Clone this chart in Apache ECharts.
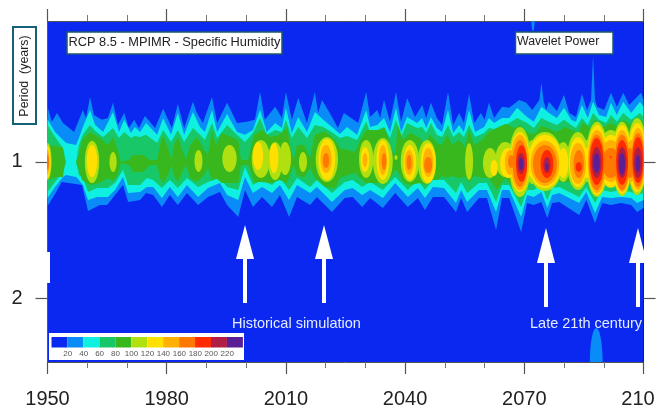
<!DOCTYPE html>
<html><head><meta charset="utf-8">
<style>html,body{margin:0;padding:0;background:#fff}#c{width:664px;height:408px}</style>
<script src="https://cdn.jsdelivr.net/npm/echarts@6/dist/echarts.min.js"></script>
</head><body><div id="c"></div>
<script>
const levelLabels=[20,40,60,80,100,120,140,160,180,200,220];
const levelColors=['#0a28f0','#0a8cf8','#10f0e0','#18c868','#38b81c','#b0e010','#ffe000','#ffb000','#ff7800','#ff2a00','#b01e46','#5a1e96'];
const xTickYears=[1950,1980,2010,2040,2070,2100];
const yTickPeriods=[1,2];

const edge20Top=[[1950,.755],[1951.1,.815],[1952.4,.779],[1953.9,.82],[1956.7,.858],[1958.9,.767],[1959.7,.799],[1960.7,.718],[1961.7,.787],[1963.7,.807],[1965.2,.799],[1966.5,.74],[1967.7,.828],[1969.3,.779],[1970.5,.841],[1971.8,.807],[1973,.841],[1974.5,.791],[1977.1,.841],[1979.1,.763],[1981.3,.841],[1982.8,.744],[1984.4,.841],[1986.6,.736],[1987.6,.779],[1989.1,.82],[1991.4,.718],[1992.7,.82],[1995.2,.74],[1997.7,.82],[2000.2,.815],[2002.2,.807],[2003.5,.7],[2004.7,.807],[2007.3,.755],[2009,.799],[2010,.7],[2011.5,.807],[2013.1,.722],[2015.3,.82],[2017.3,.7],[2018.1,.779],[2019.1,.729],[2021.6,.795],[2023.1,.841],[2024.6,.779],[2028.2,.82],[2030.2,.7],[2031.2,.795],[2033,.767],[2033.7,.799],[2034.7,.729],[2036.2,.815],[2037.7,.7],[2039,.815],[2040.5,.722],[2042.5,.795],[2044.3,.748],[2045.3,.799],[2046.5,.74],[2048,.799],[2049.3,.828],[2050.8,.7],[2052.1,.828],[2053.6,.779],[2054.8,.82],[2056.1,.707],[2057.4,.82],[2059.1,.779],[2060,.807],[2061.1,.74],[2062.4,.799],[2064.4,.755],[2066.2,.759],[2068.7,.729],[2070.5,.74],[2072,.767],[2073.8,.729],[2074.3,.668],[2074.8,.729],[2075.5,.767],[2076.2,.736],[2078.2,.771],[2080,.711],[2081.3,.779],[2083,.795],[2084.5,.707],[2085.8,.767],[2086.8,.729],[2087.3,.58],[2087.8,.729],[2088.3,.755],[2090.1,.767],[2091.8,.703],[2093.3,.755],[2094.9,.703],[2096.4,.748],[2099.4,.703],[2100,.729]];
const edge20Bottom=[[1950,1.252],[1951.9,1.177],[1953.6,1.107],[1958.7,1.124],[1960.2,1.284],[1963.2,1.245],[1965,1.245],[1967,1.183],[1969,1.124],[1970.3,1.226],[1973.3,1.214],[1974.8,1.171],[1976.6,1.183],[1978.8,1.258],[1980.8,1.183],[1982.8,1.245],[1985.1,1.171],[1987.9,1.245],[1990.4,1.195],[1993.4,1.165],[1995.2,1.245],[1998,1.323],[1999.7,1.153],[2001.7,1.258],[2004,1.195],[2006.5,1.258],[2008.5,1.183],[2010.8,1.323],[2012.8,1.195],[2016.1,1.245],[2017.8,1.195],[2021.6,1.29],[2024.8,1.202],[2026.8,1.195],[2029.2,1.258],[2031.2,1.202],[2034.4,1.264],[2037.5,1.171],[2040.7,1.258],[2043.2,1.202],[2045,1.277],[2047,1.195],[2049.8,1.195],[2052.8,1.29],[2054.1,1.202],[2055.6,1.29],[2058.6,1.202],[2060.6,1.202],[2062.9,1.414],[2064.4,1.202],[2066.2,1.202],[2069.2,1.429],[2070.7,1.233],[2072.4,1.245],[2074.3,1.226],[2075.8,1.33],[2077,1.233],[2078.8,1.226],[2083.8,1.31],[2085.6,1.214],[2087.8,1.365],[2089.6,1.233],[2091.8,1.245],[2094.3,1.233],[2096.9,1.245],[2098.4,1.29],[2100,1.264]];

const edge40Top=[[1950,.803],[1951.9,.858],[1953.9,.894],[1954.7,.908],[1957.2,.917],[1957.9,.885],[1958.9,.837],[1960.7,.767],[1962,.828],[1964,.858],[1966.5,.775],[1968,.858],[1969.3,.807],[1971,.863],[1972,.837],[1973.3,.858],[1974.8,.82],[1977.6,.871],[1979.1,.799],[1981.1,.871],[1982.8,.779],[1984.4,.871],[1986.6,.775],[1988.4,.837],[1989.6,.858],[1991.4,.767],[1992.7,.858],[1995.2,.783],[1997.7,.858],[1999.7,.871],[2001.7,.85],[2003.5,.767],[2005.2,.858],[2007.3,.82],[2009,.841],[2010,.759],[2011.5,.863],[2013.1,.795],[2015.3,.858],[2017.3,.775],[2019.4,.807],[2021.9,.841],[2023.6,.867],[2025.4,.837],[2027.9,.871],[2030.2,.767],[2031.2,.837],[2033,.828],[2034.7,.799],[2036.2,.858],[2037.7,.759],[2039,.858],[2040.5,.795],[2043,.82],[2044.3,.799],[2045.3,.841],[2046.5,.795],[2048,.841],[2049.3,.858],[2050.8,.767],[2052.1,.863],[2053.6,.828],[2054.8,.858],[2056.1,.767],[2057.6,.858],[2059.9,.837],[2061.1,.799],[2062.4,.82],[2064.4,.799],[2066.2,.799],[2068.2,.759],[2070.7,.795],[2072.4,.815],[2074.3,.755],[2076.2,.779],[2078.2,.799],[2080,.759],[2081.8,.807],[2083,.815],[2084.5,.748],[2086,.799],[2087.3,.736],[2088.8,.787],[2090.6,.795],[2091.8,.74],[2093.3,.787],[2094.9,.736],[2096.9,.779],[2099.1,.736],[2100,.755]];
const edge40Bottom=[[1950,1.202],[1951.9,1.136],[1953.9,1.079],[1954.7,1.068],[1957.2,1.079],[1957.9,1.096],[1958.9,1.124],[1960.2,1.214],[1962.5,1.195],[1965.2,1.195],[1967,1.153],[1969,1.079],[1970.3,1.171],[1973.3,1.165],[1975,1.136],[1976.6,1.136],[1978.8,1.202],[1980.8,1.136],[1982.8,1.195],[1985.1,1.124],[1987.9,1.195],[1990.4,1.142],[1993.4,1.113],[1995.2,1.183],[1998,1.214],[1999.7,1.079],[2001.7,1.171],[2004,1.136],[2006.5,1.171],[2008.5,1.124],[2010.8,1.214],[2012.8,1.124],[2016.1,1.171],[2017.8,1.136],[2021.6,1.226],[2024.8,1.153],[2026.8,1.142],[2029.2,1.183],[2031.2,1.153],[2034.4,1.202],[2037.5,1.113],[2040.7,1.195],[2043.2,1.142],[2045,1.202],[2047,1.136],[2049.8,1.142],[2052.8,1.233],[2054.1,1.153],[2055.6,1.226],[2058.6,1.153],[2060.6,1.153],[2062.9,1.29],[2064.4,1.153],[2066.2,1.153],[2069.2,1.323],[2070.7,1.183],[2072.4,1.195],[2074.3,1.165],[2075.8,1.264],[2077,1.183],[2078.8,1.171],[2083.8,1.233],[2085.6,1.165],[2087.8,1.297],[2089.6,1.195],[2091.8,1.202],[2094.3,1.195],[2096.9,1.202],[2098.4,1.233],[2100,1.214]];

const edge60Top=[[1950,.828],[1951.9,.88],[1953.9,.931],[1954.7,1],[1957.2,1],[1957.9,.917],[1958.9,.871],[1960.7,.828],[1962,.854],[1964,.88],[1966.5,.841],[1968,.885],[1969.3,.858],[1971,.885],[1972,.876],[1973.3,.88],[1974.8,.871],[1977.6,.908],[1979.1,.85],[1981.1,.903],[1982.8,.85],[1984.4,.903],[1986.6,.841],[1988.4,.871],[1989.6,.894],[1991.4,.82],[1992.7,.885],[1995.2,.828],[1997.7,.871],[1999.7,.903],[2001.7,.863],[2003.5,.799],[2005.2,.871],[2007.3,.85],[2009,.858],[2010,.807],[2011.5,.885],[2013.1,.837],[2015.3,.885],[2017.3,.828],[2019.4,.837],[2021.9,.863],[2023.6,.885],[2025.4,.876],[2027.9,.894],[2030.2,.815],[2031.2,.858],[2033,.85],[2034.7,.837],[2036.2,.885],[2037.7,.807],[2039,.88],[2040.5,.82],[2043,.841],[2044.3,.837],[2045.3,.863],[2046.5,.82],[2048,.871],[2049.3,.88],[2050.8,.828],[2052.1,.88],[2053.6,.858],[2054.8,.88],[2056.1,.828],[2057.6,.88],[2059.9,.863],[2061.1,.841],[2062.4,.845],[2064.4,.832],[2066.2,.82],[2068.2,.799],[2070.7,.82],[2072.4,.841],[2074.3,.799],[2076.2,.815],[2078.2,.828],[2080,.807],[2081.8,.828],[2083,.841],[2084.5,.799],[2086,.828],[2087.3,.779],[2088.8,.807],[2090.6,.82],[2091.8,.787],[2093.3,.815],[2094.9,.779],[2096.9,.807],[2099.1,.779],[2100,.795]];
const edge60Bottom=[[1950,1.165],[1951.9,1.107],[1953.9,1.052],[1954.7,1],[1957.2,1],[1957.9,1.068],[1958.9,1.085],[1960.2,1.165],[1962.5,1.142],[1965.2,1.142],[1967,1.113],[1969,1.041],[1970.3,1.124],[1973.3,1.124],[1975,1.085],[1976.6,1.096],[1978.8,1.142],[1980.8,1.096],[1982.8,1.142],[1985.1,1.085],[1987.9,1.136],[1990.4,1.107],[1993.4,1.085],[1995.2,1.136],[1998,1.153],[1999.7,1.026],[2001.7,1.124],[2004,1.096],[2006.5,1.124],[2008.5,1.085],[2010.8,1.153],[2012.8,1.085],[2016.1,1.136],[2017.8,1.096],[2021.6,1.171],[2024.8,1.107],[2026.8,1.096],[2029.2,1.136],[2031.2,1.107],[2034.4,1.153],[2037.5,1.079],[2040.7,1.153],[2043.2,1.096],[2045,1.153],[2047,1.096],[2049.8,1.096],[2052.8,1.171],[2054.1,1.107],[2055.6,1.171],[2058.6,1.113],[2060.6,1.113],[2062.9,1.226],[2064.4,1.124],[2066.2,1.124],[2069.2,1.258],[2070.7,1.153],[2072.4,1.153],[2074.3,1.124],[2075.8,1.214],[2077,1.142],[2078.8,1.136],[2083.8,1.195],[2085.6,1.136],[2087.8,1.233],[2089.6,1.153],[2091.8,1.165],[2094.3,1.153],[2096.9,1.165],[2098.4,1.183],[2100,1.171]];

const band80=[[1950,.917,1.096],[1952.4,.922,1.079],[1953.9,.931,1.079],[1954.4,1,1],[1957.2,1,1],[1957.9,.965,1.041],[1958.7,.894,1.096],[1960.7,.858,1.124],[1963.2,.885,1.113],[1965.2,.917,1.085],[1966.5,.88,1.102],[1967.7,.941,1.068],[1968.5,1,1.005],[1970.5,.99,1.015],[1971.5,.965,1.052],[1974,.965,1.052],[1975.8,.99,1.015],[1977.6,.99,1.015],[1978.3,.917,1.085],[1979.1,.871,1.113],[1980.3,.931,1.068],[1981.3,.99,1.015],[1981.8,.917,1.068],[1982.8,.88,1.107],[1983.9,.941,1.052],[1984.9,.99,1.015],[1985.9,.917,1.085],[1987.6,.88,1.107],[1989.4,.941,1.068],[1990.4,.965,1.031],[1991.4,.85,1.096],[1992.4,.917,1.085],[1993.9,.863,1.113],[1998,.894,1.113],[1998.7,.99,1.015],[2000.5,.99,1.015],[2001,.941,1.041],[2002,.871,1.107],[2004,.85,1.107],[2006,.88,1.113],[2008.5,.871,1.096],[2010.3,.841,1.113],[2011.3,.941,1.052],[2012,.99,1.015],[2012.8,.917,1.068],[2014.6,.917,1.085],[2016.1,.98,1.031],[2017.3,.871,1.085],[2019.8,.854,1.136],[2022.4,.894,1.142],[2023.6,.931,1.085],[2025.4,.941,1.068],[2027.4,.95,1.058],[2028.7,.894,1.085],[2030.2,.85,1.113],[2033.7,.85,1.113],[2034.9,.841,1.124],[2036.7,.941,1.068],[2037.5,.965,1.041],[2038.2,.828,1.052],[2039.5,.894,1.107],[2041.2,.863,1.124],[2043.8,.885,1.113],[2045,.917,1.124],[2046.3,.871,1.096],[2048,.908,1.096],[2049.3,.917,1.074],[2050.6,.871,1.085],[2051.8,.917,1.074],[2053.6,.894,1.085],[2055.1,.926,1.079],[2056.1,.85,1.107],[2057.4,.917,1.074],[2059.4,.894,1.085],[2061.1,.858,1.085],[2063.1,.841,1.153],[2065.2,.824,1.085],[2067.7,.841,1.153],[2068.9,.828,1.183],[2070.7,.858,1.107],[2072.4,.871,1.096],[2074.3,.832,1.096],[2075.8,.841,1.153],[2078.2,.858,1.107],[2080.3,.837,1.107],[2082,.85,1.107],[2083.5,.863,1.142],[2084.8,.82,1.107],[2086.5,.841,1.096],[2087.8,.807,1.165],[2090.1,.837,1.113],[2091.8,.82,1.119],[2093.6,.837,1.119],[2094.9,.807,1.119],[2096.9,.828,1.124],[2099.1,.807,1.153],[2100,.815,1.142]];

// closed contours: centre year, half span in years, upper period, lower period
const islands20=[[2072.2,.4,.46,.513],[2088.1,1.6,2.33,3.3]];
const islands100=[[1950,1,.908,1.096],[1961.2,1.8,.898,1.113],[1966.5,.9,.95,1.052],[1988,1,.941,1.052],[1995.8,1.8,.917,1.052],[2003.7,2.3,.894,1.085],[2007.3,1.8,.903,1.096],[2009.8,1.5,.903,1.068],[2014.3,1,.95,1.052],[2020.3,2.8,.88,1.107],[2030.2,1.8,.894,1.085],[2034.4,2.5,.885,1.119],[2037.7,.4,.965,.99],[2041.2,2.3,.894,1.107],[2045.5,2.3,.894,1.119],[2056.1,1,.908,1.096],[2061.4,1.8,.931,1.085],[2065.2,2.5,.903,1.079],[2068.9,2.8,.837,1.195],[2075.2,4.5,.858,1.159],[2083.5,2.8,.858,1.153],[2088.3,2.8,.815,1.195],[2091.8,3.3,.85,1.142],[2094.6,2.5,.815,1.189],[2098.4,2.5,.799,1.183],[2079.8,1.8,.903,1.107],[2085.8,1.8,.894,1.107],[2072,1.8,.894,1.119]];
const islands120=[[1950,.8,.922,1.085],[1961.2,1.3,.917,1.079],[2003,1.3,.903,1.041],[2007,1.1,.908,1.058],[2020.3,2.1,.889,1.096],[2029.9,1.1,.926,1.052],[2034.4,1.6,.894,1.096],[2041.2,1.6,.917,1.096],[2045.8,1.9,.908,1.113],[2062.4,.9,.99,1.074],[2065.9,2,.931,1.085],[2068.9,2.5,.858,1.165],[2075.2,4.3,.871,1.142],[2083.5,2.3,.88,1.136],[2088.3,2.5,.828,1.183],[2091.8,3,.871,1.136],[2094.6,2.3,.828,1.177],[2098.4,2.3,.82,1.165],[2079.8,1.3,.931,1.085],[2085.8,1.5,.931,1.085],[2072,1.3,.931,1.085]];
const islands140=[[1950,.5,.941,1.063],[2020.1,1.4,.917,1.058],[2029.9,.6,.955,1.026],[2034.4,1,.917,1.068],[2041,1.1,.941,1.068],[2045.8,1.3,.931,1.079],[2066.4,1.3,.941,1.068],[2068.9,2.3,.871,1.153],[2075.2,3.6,.898,1.13],[2083.5,2,.908,1.119],[2088.3,2.3,.85,1.171],[2091.8,2.8,.894,1.107],[2094.6,2,.85,1.165],[2096.9,1.5,.894,1.107],[2098.6,1.8,.841,1.153]];
const islands160=[[1950,.4,.965,1.041],[2020.1,.8,.955,1.031],[2034.7,.6,.955,1.041],[2041,.6,.965,1.041],[2045.8,1,.975,1.058],[2068.9,1.8,.894,1.136],[2066.7,.8,.965,1.031],[2075.2,3,.917,1.113],[2083.7,1.3,.941,1.085],[2088.2,2,.871,1.153],[2091.8,2.3,.931,1.085],[2094.6,1.8,.871,1.153],[2096.6,1.3,.931,1.085],[2098.6,1.6,.863,1.136]];
const islands180=[[2069.3,1.4,.917,1.107],[2075.7,1.6,.941,1.085],[2083.7,.8,1,1.052],[2088.2,1.7,.885,1.124],[2094.6,1.5,.894,1.124],[2098.6,1.4,.88,1.113],[2091.7,.2,.97,.98]];
const islands200=[[2069.2,.95,.955,1.063],[2075.7,.9,.975,1.058],[2088.2,1.25,.926,1.085],[2094.6,1.1,.926,1.085],[2098.6,1.05,.926,1.085]];
const islands220=[[2069.2,.55,.98,1.041],[2075.7,.35,1.005,1.041],[2088.2,.8,.955,1.058],[2094.6,.75,.955,1.068],[2098.6,.6,.965,1.052]];

const chart=echarts.init(document.getElementById('c'),null,{renderer:'canvas'});
const FONT='"Liberation Sans",Arial,sans-serif';

function bandSeries(name,color,top,bottom){
  return {type:'custom',name,silent:true,clip:true,animation:false,data:[[top[0][0],1]],encode:{x:0,y:1},
    renderItem(p,api){
      const pts=top.map(d=>api.coord(d)).concat(bottom.slice().reverse().map(d=>api.coord(d)));
      return {type:'polygon',shape:{points:pts},style:{fill:color}};
    }};
}
function islandSeries(name,color,rows){
  return {type:'custom',name,silent:true,clip:true,animation:false,data:rows,encode:{x:0,y:2},
    renderItem(p,api){
      const c=api.value(0),h=api.value(1),t=api.value(2),b=api.value(3);
      const a=api.coord([c-h,t]),z=api.coord([c+h,b]);
      const cx=(a[0]+z[0])/2,cy=(a[1]+z[1])/2;
      return {type:'ellipse',shape:{cx,cy,rx:(z[0]-a[0])/2,ry:(z[1]-a[1])/2},style:{fill:color}};
    }};
}
const band80Top=band80.map(r=>[r[0],r[1]]), band80Bottom=band80.map(r=>[r[0],r[2]]);
const series=[
  bandSeries('20',levelColors[1],edge20Top,edge20Bottom),
  islandSeries('20 closed',levelColors[1],islands20),
  bandSeries('40',levelColors[2],edge40Top,edge40Bottom),
  bandSeries('60',levelColors[3],edge60Top,edge60Bottom),
  bandSeries('80',levelColors[4],band80Top,band80Bottom),
  islandSeries('100',levelColors[5],islands100),
  islandSeries('120',levelColors[6],islands120),
  islandSeries('140',levelColors[7],islands140),
  islandSeries('160',levelColors[8],islands160),
  islandSeries('180',levelColors[9],islands180),
  islandSeries('200',levelColors[10],islands200),
  islandSeries('220',levelColors[11],islands220)
];

function textBox(x,y,w,h,label,size){
  return [
    {type:'rect',shape:{x,y,width:w,height:h},style:{fill:'#fff',stroke:'#1d5a6e',lineWidth:1.5},z:20},
    {type:'text',x:x+1.5,y:y+h/2-1,style:{text:label,font:size+'px '+FONT,fill:'#222',verticalAlign:'middle'},z:21}
  ];
}
function arrow(tipX,tipY,baseY,endY){
  return [
    {type:'rect',shape:{x:tipX-2,y:baseY-1,width:4,height:endY-baseY+1},style:{fill:'#fff'},z:20},
    {type:'polygon',shape:{points:[[tipX,tipY],[tipX+9,baseY],[tipX-9,baseY]]},style:{fill:'#fff'},z:20}
  ];
}
const legendParts=[{type:'rect',shape:{x:49,y:333,width:195,height:27},style:{fill:'#fff'},z:20}];
levelColors.forEach((col,i)=>legendParts.push({type:'rect',shape:{x:51.5+i*15.95,y:337,width:15.95,height:10.5},style:{fill:col},z:21}));
levelLabels.forEach((v,i)=>legendParts.push({type:'text',x:67.7+i*15.95,y:354,style:{text:String(v),font:'8px '+FONT,fill:'#555',align:'center',verticalAlign:'middle'},z:21}));

const graphics=[
  {type:'rect',shape:{x:47,y:252,width:3,height:31},style:{fill:'#fff'},z:20},
  {type:'rect',shape:{x:13,y:27,width:23,height:97},style:{fill:'#fff',stroke:'#17607a',lineWidth:2},z:20},
  {type:'text',x:24.5,y:76,rotation:Math.PI/2,style:{text:'Period  (years)',font:'12.4px '+FONT,fill:'#222',align:'center',verticalAlign:'middle'},z:21},
  ...textBox(67,32,215,22,'RCP 8.5 - MPIMR - Specific Humidity',12.8),
  ...textBox(515.5,32,97.5,22,'Wavelet Power',12.3),
  ...arrow(245,225,259,303),...arrow(324,225,259,303),...arrow(546,228,263,307),...arrow(638,228,263,307),
  {type:'text',x:232,y:324,style:{text:'Historical simulation',font:'14.5px '+FONT,fill:'#e4ecff',verticalAlign:'middle'},z:21},
  {type:'text',x:530,y:324,style:{text:'Late 21th century',font:'14.5px '+FONT,fill:'#e4ecff',verticalAlign:'middle'},z:21},
  ...legendParts
];

const xBase={type:'value',min:1950,max:2100,interval:30,splitLine:{show:false},
  axisLine:{show:true,lineStyle:{color:'#555',width:1}},
  axisTick:{show:true,length:12,inside:false,lineStyle:{color:'#555',width:1.2}},
  minorTick:{show:true,splitNumber:3,length:6,lineStyle:{color:'#777',width:1}}};
const yBase={type:'log',logBase:2,min:0.4877,max:2.77,inverse:true,splitLine:{show:false},
  axisLine:{show:true,lineStyle:{color:'#555',width:1}},
  axisTick:{show:true,length:12,customValues:yTickPeriods,lineStyle:{color:'#555',width:1.2}},
  minorTick:{show:false}};

chart.setOption({
  animation:false,
  backgroundColor:'#fff',
  grid:{left:47.5,top:21,width:596,height:341,show:true,backgroundColor:levelColors[0],borderWidth:0,outerBoundsMode:'none',containLabel:false},
  xAxis:[
    {...xBase,position:'bottom',axisLabel:{show:true,margin:27,fontSize:20,color:'#222',fontFamily:FONT,
      customValues:xTickYears,formatter:v=>v===2100?'210  ':String(v)}},
    {...xBase,position:'top',axisLabel:{show:false}}
  ],
  yAxis:[
    {...yBase,position:'left',axisLabel:{show:true,margin:25,fontSize:20,color:'#222',fontFamily:FONT,customValues:yTickPeriods,formatter:v=>String(Math.round(v))}},
    {...yBase,position:'right',axisLabel:{show:false},axisLine:{show:true,lineStyle:{color:'#222',width:1}}}
  ],
  series,
  graphic:{elements:graphics}
});
</script></body></html>
